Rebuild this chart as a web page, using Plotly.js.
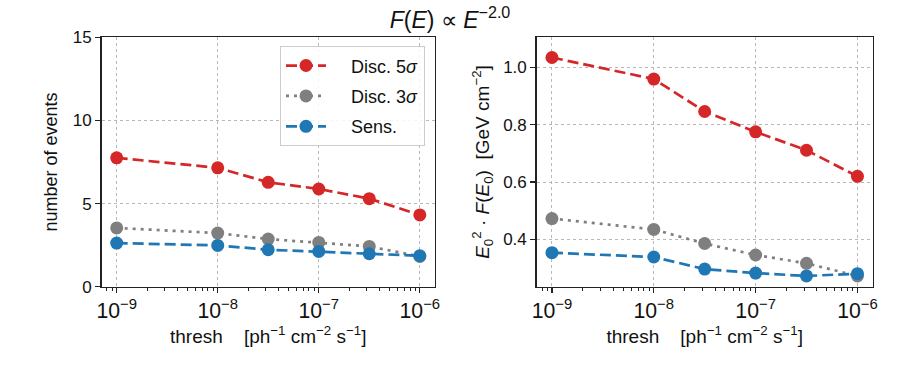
<!DOCTYPE html>
<html>
<head>
<meta charset="utf-8">
<script src="https://cdn.plot.ly/plotly-3.0.1.min.js"></script>
<style>html,body{margin:0;padding:0;background:#fff;}#chart{width:900px;height:375px;}</style>
</head>
<body>
<div id="chart"></div>
<script>
// thresholds [ph^-1 cm^-2 s^-1]
const thresh = [1e-9, 1e-8, 3.16e-8, 1e-7, 3.16e-7, 1e-6];

// number of events
const eventsDisc5 = [7.75, 7.15, 6.28, 5.88, 5.30, 4.32];
const eventsDisc3 = [3.54, 3.23, 2.87, 2.67, 2.43, 1.83];
const eventsSens  = [2.63, 2.49, 2.23, 2.13, 1.99, 1.87];

// E0^2 * F(E0) [GeV cm^-2]
const fluxDisc5 = [1.034, 0.959, 0.846, 0.775, 0.711, 0.620];
const fluxDisc3 = [0.473, 0.435, 0.386, 0.346, 0.317, 0.273];
const fluxSens  = [0.354, 0.339, 0.297, 0.283, 0.273, 0.281];

const seriesNames = ['Disc. 5<i>σ</i>', 'Disc. 3<i>σ</i>', 'Sens.'];
const colors = ['#d62728', '#7f7f7f', '#1f77b4'];
const dashes = ['11px,5px', '3px,5px', '11px,5px'];

const leftData = [eventsDisc5, eventsDisc3, eventsSens];
const rightData = [fluxDisc5, fluxDisc3, fluxSens];

const PAD = '\u00A0\u00A0\u00A0\u00A0';
const traces = [];
leftData.forEach((ys, i) => {
  traces.push({
    x: thresh, y: ys, name: PAD + seriesNames[i], type: 'scatter', mode: 'lines+markers',
    xaxis: 'x', yaxis: 'y', legendgroup: 'g' + i,
    line: {color: colors[i], width: 2.7, dash: dashes[i]},
    marker: {color: colors[i], size: 13}
  });
});
rightData.forEach((ys, i) => {
  traces.push({
    x: thresh, y: ys, name: seriesNames[i], type: 'scatter', mode: 'lines+markers',
    xaxis: 'x2', yaxis: 'y2', legendgroup: 'g' + i, showlegend: false,
    line: {color: colors[i], width: 2.7, dash: dashes[i]},
    marker: {color: colors[i], size: 13}
  });
});

const FONT = 'Liberation Sans, Arial, sans-serif';
const xCommon = {
  type: 'log', range: [-9.15, -5.85], dtick: 1, exponentformat: 'power',
  showline: true, mirror: true, linecolor: '#222', linewidth: 1.5,
  ticks: 'outside', ticklen: 5, tickwidth: 1.2, tickcolor: '#222',
  showgrid: true, gridcolor: '#b8b8b8', griddash: 'dot', gridwidth: 1,
  minor: {ticks: 'outside', ticklen: 3, tickcolor: '#222', tickwidth: 1, showgrid: false},
  zeroline: false,
  tickfont: {family: FONT, size: 17, color: '#111'},
  title: {text: 'thresh\u00A0\u00A0\u00A0\u00A0[ph<sup>−1</sup>\u00A0cm<sup>−2</sup>\u00A0s<sup>−1</sup>]', font: {family: FONT, size: 19, color: '#111'}, standoff: 6}
};
const yCommon = {
  showline: true, mirror: true, linecolor: '#222', linewidth: 1.5,
  ticks: 'outside', ticklen: 5, tickwidth: 1.2, tickcolor: '#222',
  showgrid: true, gridcolor: '#b8b8b8', griddash: 'dot', gridwidth: 1,
  zeroline: false,
  tickfont: {family: FONT, size: 17, color: '#111'}
};

const layout = {
  width: 900, height: 375,
  margin: {l: 0, r: 0, t: 0, b: 0},
  paper_bgcolor: '#fff', plot_bgcolor: '#fff',
  showlegend: true,
  title: {text: '<i>F</i>(<i>E</i>) ∝ <i>E</i><sup>−2.0</sup>', x: 0.5, xanchor: 'center', y: 0.948, yanchor: 'middle',
          font: {family: FONT, size: 23, color: '#111'}},
  xaxis: Object.assign({}, xCommon, {domain: [0.1128, 0.4833], anchor: 'y'}),
  yaxis: Object.assign({}, yCommon, {domain: [0.235, 0.901], range: [0, 15], dtick: 5, anchor: 'x',
    title: {text: 'number of events', font: {family: FONT, size: 18, color: '#111'}, standoff: 10}}),
  xaxis2: Object.assign({}, xCommon, {domain: [0.5963, 0.9697], anchor: 'y2'}),
  yaxis2: Object.assign({}, yCommon, {domain: [0.235, 0.901], range: [0.235, 1.105], dtick: 0.2, tickformat: '.1f', anchor: 'x2',
    title: {text: '<i>E</i><sub>0</sub><sup>2</sup> · <i>F</i>(<i>E</i><sub>0</sub>)\u00A0\u00A0[GeV\u00A0cm<sup>−2</sup>]', font: {family: FONT, size: 19, color: '#111'}, standoff: 8}}),
  legend: {
    x: 0.472, xanchor: 'right', y: 0.877, yanchor: 'top',
    bgcolor: 'rgba(255,255,255,0.85)', bordercolor: '#cccccc', borderwidth: 1.2,
    font: {family: FONT, size: 18, color: '#111'},
    itemwidth: 40, tracegroupgap: 4
  }
};

Plotly.newPlot('chart', traces, layout, {displayModeBar: false, staticPlot: true});
</script>
</body>
</html>
